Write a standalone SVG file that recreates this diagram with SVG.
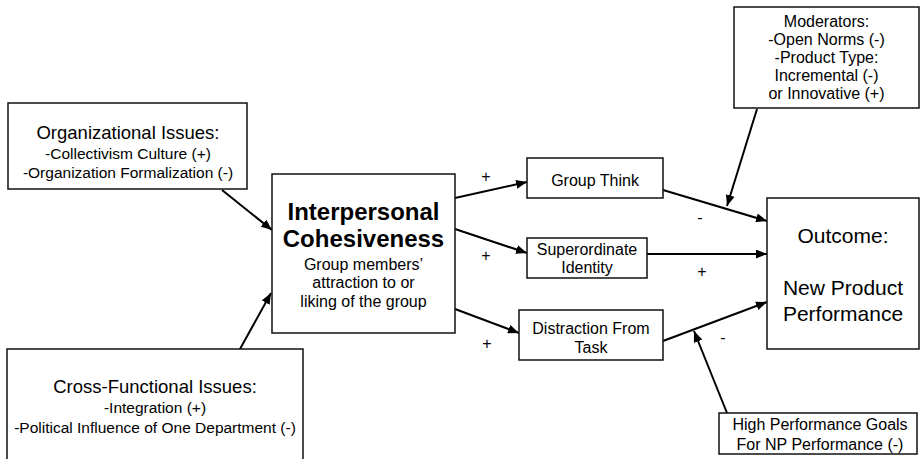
<svg xmlns="http://www.w3.org/2000/svg" width="921" height="459" viewBox="0 0 921 459">
<style>
.box{fill:#fff;stroke:#111;stroke-width:1.5}
text{font-family:"Liberation Sans",Arial,sans-serif;fill:#000;text-anchor:middle}
.t{font-size:18.5px}
.s{font-size:15.5px}
.m{font-size:16px}
.b{font-size:24px;font-weight:bold}
.o{font-size:21px}
.c line{stroke:#000;stroke-width:2;marker-end:url(#ah)}
</style>
<defs>
<marker id="ah" markerUnits="userSpaceOnUse" markerWidth="11" markerHeight="9" refX="11" refY="4.5" orient="auto">
<path d="M0,0 L11,4.5 L0,9 z" fill="#000"/>
</marker>
</defs>
<rect width="921" height="459" fill="#fff"/>
<g class="c" id="connectors">
<line x1="222" y1="190" x2="272" y2="230"/>
<line x1="240" y1="349" x2="271" y2="293"/>
<line x1="455" y1="198" x2="527" y2="182"/>
<line x1="455" y1="229" x2="527" y2="253"/>
<line x1="455" y1="309" x2="519" y2="333"/>
<line x1="663" y1="190" x2="767" y2="221"/>
<line x1="647" y1="254" x2="767" y2="254"/>
<line x1="663" y1="341" x2="767" y2="302"/>
<line x1="757" y1="109" x2="727" y2="206"/>
<line x1="727" y1="413" x2="694" y2="331"/>
</g>
<g id="labels">
<text class="m" x="486" y="182">+</text>
<text class="m" x="486" y="261">+</text>
<text class="m" x="487" y="349">+</text>
<text class="m" x="700" y="223">-</text>
<text class="m" x="702" y="277">+</text>
<text class="m" x="723" y="343">-</text>
</g>
<g id="org">
<rect class="box" x="8" y="103" width="239" height="86"/>
<text class="t" x="128" y="139">Organizational Issues:</text>
<text class="s" x="128" y="159">-Collectivism Culture (+)</text>
<text class="s" x="128" y="178">-Organization Formalization (-)</text>
</g>
<g id="cross">
<rect class="box" x="7" y="349" width="296" height="125"/>
<text class="t" x="155" y="393">Cross-Functional Issues:</text>
<text class="s" x="155" y="413">-Integration (+)</text>
<text class="s" x="155" y="433">-Political Influence of One Department (-)</text>
</g>
<g id="cohesiveness">
<rect class="box" x="272" y="174" width="183" height="159"/>
<text class="b" x="363.5" y="220">Interpersonal</text>
<text class="b" x="363.5" y="247">Cohesiveness</text>
<text class="m" x="363.5" y="270">Group members’</text>
<text class="m" x="363.5" y="288">attraction to or</text>
<text class="m" x="363.5" y="307">liking of the group</text>
</g>
<g id="groupthink">
<rect class="box" x="527" y="158" width="136" height="40"/>
<text class="m" x="595" y="186">Group Think</text>
</g>
<g id="superordinate">
<rect class="box" x="527" y="238" width="120" height="40"/>
<text class="m" x="587" y="255">Superordinate</text>
<text class="m" x="587" y="273">Identity</text>
</g>
<g id="distraction">
<rect class="box" x="519" y="310" width="144" height="50"/>
<text class="m" x="591" y="334">Distraction From</text>
<text class="m" x="591" y="353">Task</text>
</g>
<g id="moderators">
<rect class="box" x="734" y="7" width="185" height="101"/>
<text class="m" x="826.5" y="27">Moderators:</text>
<text class="m" x="826.5" y="45">-Open Norms (-)</text>
<text class="m" x="826.5" y="63">-Product Type:</text>
<text class="m" x="826.5" y="81">Incremental (-)</text>
<text class="m" x="826.5" y="99">or Innovative (+)</text>
</g>
<g id="outcome">
<rect class="box" x="767" y="198" width="152" height="151"/>
<text class="o" x="843" y="243">Outcome:</text>
<text class="o" x="843" y="295">New Product</text>
<text class="o" x="843" y="321">Performance</text>
</g>
<g id="highperf">
<rect class="box" x="719" y="413" width="198" height="41"/>
<text class="m" x="820" y="430">High Performance Goals</text>
<text class="m" x="820" y="450">For NP Performance (-)</text>
</g>
</svg>
